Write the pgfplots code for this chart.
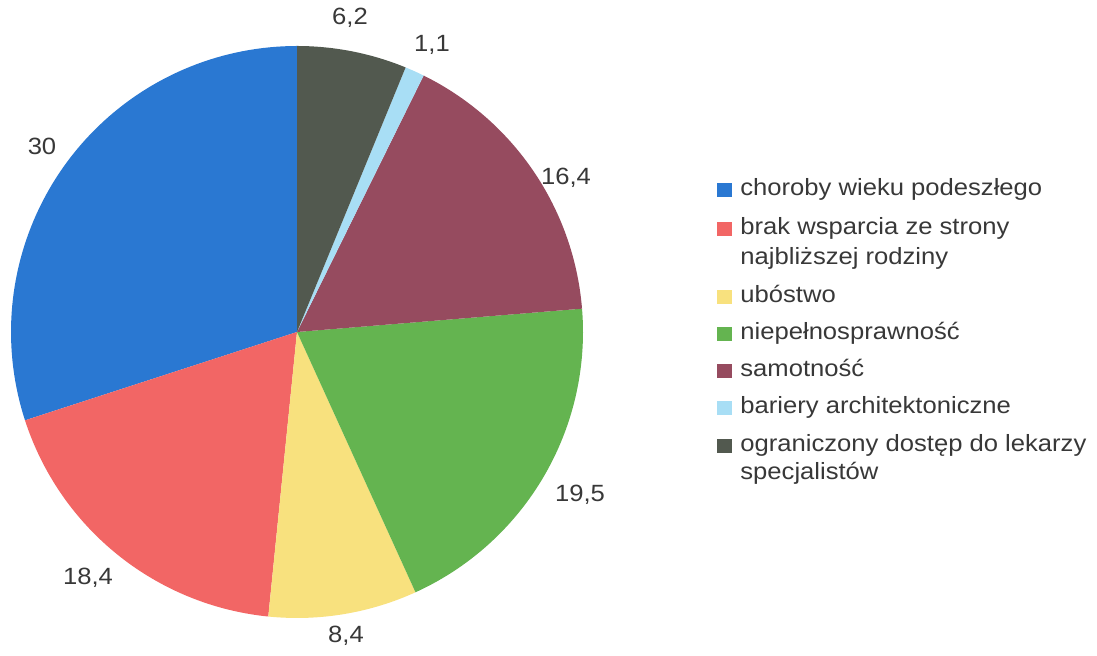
\documentclass[border=0pt]{standalone}
\usepackage{pgfplots}
\pgfplotsset{compat=1.18}
\usepackage{fontspec}
\setmainfont[FakeStretch=1.09]{Liberation Sans}
\definecolor{cblue}{HTML}{2A78D2}
\definecolor{cred}{HTML}{F26665}
\definecolor{cyellow}{HTML}{F8E17E}
\definecolor{cgreen}{HTML}{64B450}
\definecolor{cmaroon}{HTML}{964B5F}
\definecolor{clblue}{HTML}{A8DEF5}
\definecolor{cdgray}{HTML}{52594F}
\definecolor{ctext}{HTML}{383838}
% slice values (percent), counter-clockwise from 12 o'clock
\def\vA{30}\def\vB{18.4}\def\vC{8.4}\def\vD{19.5}\def\vE{16.4}\def\vF{1.1}\def\vG{6.2}
\pgfmathsetmacro\aA{90}
\pgfmathsetmacro\aB{\aA+3.6*\vA}
\pgfmathsetmacro\aC{\aB+3.6*\vB}
\pgfmathsetmacro\aD{\aC+3.6*\vC}
\pgfmathsetmacro\aE{\aD+3.6*\vD}
\pgfmathsetmacro\aF{\aE+3.6*\vE}
\pgfmathsetmacro\aG{\aF+3.6*\vF}
\pgfmathsetmacro\aH{\aG+3.6*\vG}
\def\cx{297}\def\cy{324}\def\r{286}
\begin{document}
\begin{tikzpicture}
\begin{axis}[scale only axis, width=548.5pt, height=328pt,
  xmin=0, xmax=1097, ymin=0, ymax=656, axis lines=none, clip=false]
\path (axis cs:0,0) rectangle (axis cs:1097,656);
\addplot[fill=cblue, draw=none, domain=\aA:\aB, samples=80, variable=\t] ({\cx+\r*cos(t)},{\cy+\r*sin(t)}) -- (axis cs:\cx,\cy) -- cycle;
\addplot[fill=cred, draw=none, domain=\aB:\aC, samples=60, variable=\t] ({\cx+\r*cos(t)},{\cy+\r*sin(t)}) -- (axis cs:\cx,\cy) -- cycle;
\addplot[fill=cyellow, draw=none, domain=\aC:\aD, samples=40, variable=\t] ({\cx+\r*cos(t)},{\cy+\r*sin(t)}) -- (axis cs:\cx,\cy) -- cycle;
\addplot[fill=cgreen, draw=none, domain=\aD:\aE, samples=60, variable=\t] ({\cx+\r*cos(t)},{\cy+\r*sin(t)}) -- (axis cs:\cx,\cy) -- cycle;
\addplot[fill=cmaroon, draw=none, domain=\aE:\aF, samples=60, variable=\t] ({\cx+\r*cos(t)},{\cy+\r*sin(t)}) -- (axis cs:\cx,\cy) -- cycle;
\addplot[fill=clblue, draw=none, domain=\aF:\aG, samples=10, variable=\t] ({\cx+\r*cos(t)},{\cy+\r*sin(t)}) -- (axis cs:\cx,\cy) -- cycle;
\addplot[fill=cdgray, draw=none, domain=\aG:\aH, samples=30, variable=\t] ({\cx+\r*cos(t)},{\cy+\r*sin(t)}) -- (axis cs:\cx,\cy) -- cycle;
% value labels
\begin{scope}[every node/.style={font=\fontsize{11.75pt}{14pt}\selectfont, text=ctext}]
\node at (axis cs:42,510) {30};
\node at (axis cs:88,78) {18,4};
\node at (axis cs:346,20) {8,4};
\node at (axis cs:580,161) {19,5};
\node at (axis cs:566,478) {16,4};
\node at (axis cs:432,611) {1,1};
\node at (axis cs:350,638) {6,2};
\end{scope}
% legend
\begin{scope}[every node/.style={font=\fontsize{11.75pt}{14pt}\selectfont, text=ctext, anchor=base west, inner sep=0pt}]
\fill[cblue]   (axis cs:717,459) rectangle (axis cs:732,473);
\node at (axis cs:740,460) {choroby wieku podeszłego};
\fill[cred]    (axis cs:717,420) rectangle (axis cs:732,434);
\node at (axis cs:740,421) {brak wsparcia ze strony};
\node at (axis cs:740,391) {najbliższej rodziny};
\fill[cyellow] (axis cs:717,352) rectangle (axis cs:732,366);
\node at (axis cs:740,353) {ubóstwo};
\fill[cgreen]  (axis cs:717,315) rectangle (axis cs:732,329);
\node at (axis cs:740,316) {niepełnosprawność};
\fill[cmaroon] (axis cs:717,278) rectangle (axis cs:732,292);
\node at (axis cs:740,279) {samotność};
\fill[clblue]  (axis cs:717,241) rectangle (axis cs:732,255);
\node at (axis cs:740,242) {bariery architektoniczne};
\fill[cdgray]  (axis cs:717,203) rectangle (axis cs:732,217);
\node at (axis cs:740,204) {ograniczony dostęp do lekarzy};
\node at (axis cs:740,176) {specjalistów};
\end{scope}
\end{axis}
\end{tikzpicture}
\end{document}
